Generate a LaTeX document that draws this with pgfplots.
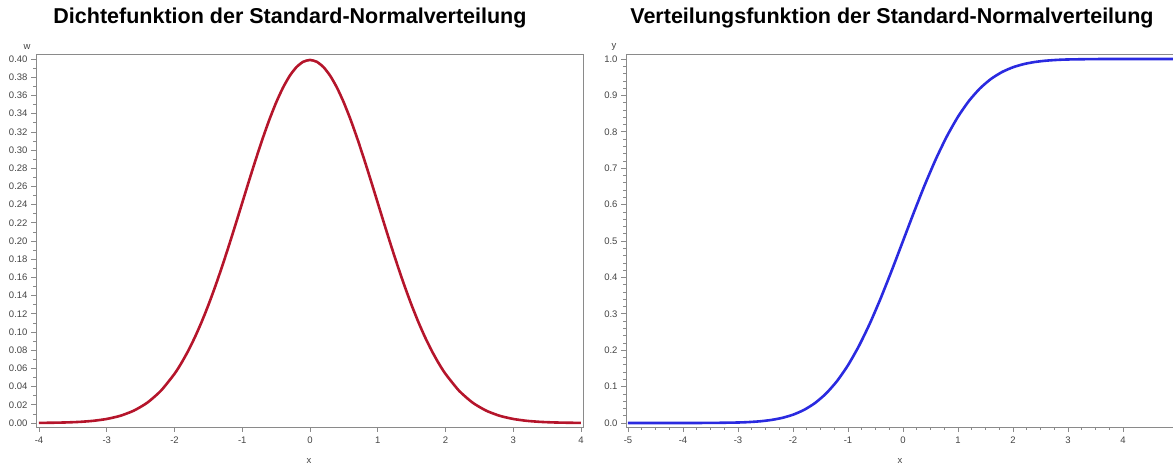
\documentclass[border=0pt]{standalone}
\usepackage{fontspec}
\setmainfont{Liberation Sans}
\usepackage{pgfplots}
\pgfplotsset{compat=1.18}
\definecolor{redc}{HTML}{B5152B}
\definecolor{bluec}{HTML}{2A2AE0}
\definecolor{axc}{HTML}{8A8A8A}
\definecolor{txc}{HTML}{444444}
\begin{document}
\begin{tikzpicture}[x=1pt,y=1pt]
\useasboundingbox (0,0) rectangle (1173,466);
\pgfplotsset{
  every axis/.append style={
    scale only axis,
    height=373pt,
    axis line style={axc, line width=0.8pt},
    tick style={axc, line width=0.6pt},
    major tick length=5pt,
    minor tick length=3pt,
    tick align=outside,
    tick pos=left,
    tick label style={font=\fontsize{9.5}{10}\selectfont, text=txc},
    /pgf/number format/assume math mode=true,
    label style={font=\fontsize{9.5}{10}\selectfont, text=txc},
    clip=false,
  }
}
% left panel
\begin{axis}[
  at={(36pt,39pt)}, anchor=south west,
  width=547pt,
  xmin=-4.044, xmax=4.03,
  ymin=-0.0044, ymax=0.4055,
  xtick={-4,-3,-2,-1,0,1,2,3,4},
  ytick={0,0.02,...,0.401},
  minor y tick num=1,
  yticklabel style={/pgf/number format/.cd, fixed, fixed zerofill, precision=2},
  xticklabel style={yshift=-1pt},
]
\addplot[redc, line width=2.6pt, smooth, tension=0.4] coordinates {
(-4.0,0.00013) (-3.8,0.00029) (-3.6,0.00061) (-3.4,0.00123) (-3.2,0.00238)
(-3.0,0.00443) (-2.8,0.00792) (-2.6,0.01358) (-2.4,0.02239) (-2.2,0.03547)
(-2.0,0.05399) (-1.9,0.06562) (-1.8,0.07895) (-1.7,0.09405) (-1.6,0.11092)
(-1.5,0.12952) (-1.4,0.14973) (-1.3,0.17137) (-1.2,0.19419) (-1.1,0.21785)
(-1.0,0.24197) (-0.9,0.26609) (-0.8,0.28969) (-0.7,0.31225) (-0.6,0.33322)
(-0.5,0.35207) (-0.4,0.36827) (-0.3,0.38139) (-0.2,0.39104) (-0.1,0.39695)
(0.0,0.39894)
(0.1,0.39695) (0.2,0.39104) (0.3,0.38139) (0.4,0.36827) (0.5,0.35207)
(0.6,0.33322) (0.7,0.31225) (0.8,0.28969) (0.9,0.26609) (1.0,0.24197)
(1.1,0.21785) (1.2,0.19419) (1.3,0.17137) (1.4,0.14973) (1.5,0.12952)
(1.6,0.11092) (1.7,0.09405) (1.8,0.07895) (1.9,0.06562) (2.0,0.05399)
(2.2,0.03547) (2.4,0.02239) (2.6,0.01358) (2.8,0.00792) (3.0,0.00443)
(3.2,0.00238) (3.4,0.00123) (3.6,0.00061) (3.8,0.00029) (4.0,0.00013)
};
\end{axis}
% right panel
\begin{axis}[
  at={(626pt,39pt)}, anchor=south west,
  width=550pt,
  xmin=-5.036, xmax=4.964,
  ymin=-0.011, ymax=1.0137,
  xtick={-5,-4,-3,-2,-1,0,1,2,3,4},
  ytick={0,0.1,...,1.01},
  minor y tick num=4,
  minor x tick num=3,
  yticklabel style={/pgf/number format/.cd, fixed, fixed zerofill, precision=1},
  xticklabel style={yshift=-1pt},
]
\addplot[bluec, line width=2.6pt, smooth, tension=0.4] coordinates {
(-5.0,0.0000003) (-4.5,0.0000034) (-4.0,0.0000317) (-3.5,0.000233)
(-3.0,0.00135) (-2.8,0.00256) (-2.6,0.00466) (-2.4,0.00820) (-2.2,0.01390)
(-2.0,0.02275) (-1.8,0.03593) (-1.6,0.05480) (-1.4,0.08076) (-1.2,0.11507)
(-1.0,0.15866) (-0.8,0.21186) (-0.6,0.27425) (-0.4,0.34458) (-0.2,0.42074)
(0.0,0.5) (0.2,0.57926) (0.4,0.65542) (0.6,0.72575) (0.8,0.78814)
(1.0,0.84134) (1.2,0.88493) (1.4,0.91924) (1.6,0.94520) (1.8,0.96407)
(2.0,0.97725) (2.2,0.98610) (2.4,0.99180) (2.6,0.99534) (2.8,0.99744)
(3.0,0.99865) (3.5,0.99977) (4.0,0.99997) (4.5,1.0) (4.96,1.0)
};
\end{axis}
% titles and labels
\node[font=\fontsize{21.5}{24}\selectfont\bfseries] at (290,448) {Dichtefunktion der Standard-Normalverteilung};
\node[font=\fontsize{21.5}{24}\selectfont\bfseries] at (892,448) {Verteilungsfunktion der Standard-Normalverteilung};
\node[font=\fontsize{9.5}{10}\selectfont, text=txc] at (27,419) {w};
\node[font=\fontsize{9.5}{10}\selectfont, text=txc] at (614,419) {y};
\node[font=\fontsize{9.5}{10}\selectfont, text=txc] at (309,5) {x};
\node[font=\fontsize{9.5}{10}\selectfont, text=txc] at (900,5) {x};
\end{tikzpicture}
\end{document}
